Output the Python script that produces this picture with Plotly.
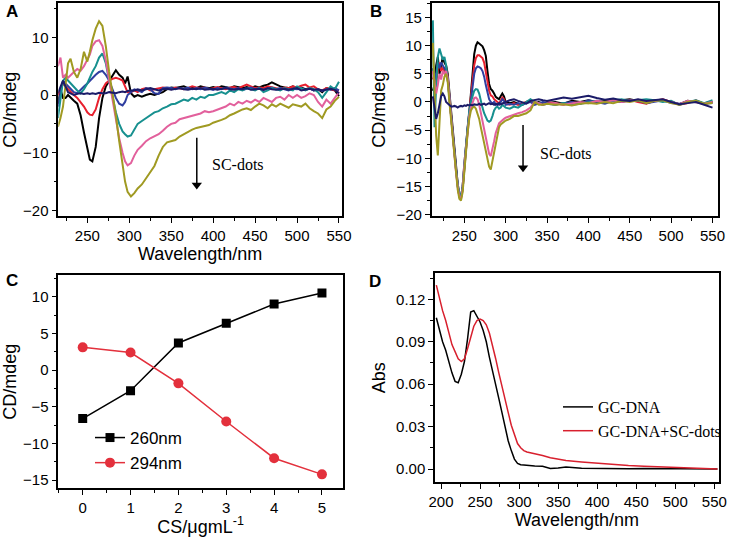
import plotly.graph_objects as go

W, H = 733, 537

# ---------------- Panel A data (CD spectra) ----------------
A_wl = [215, 218, 221, 224, 227, 230, 234, 238, 242, 246,
        250, 253, 256, 260, 264, 268, 272, 276, 280, 284,
        288, 292, 295, 298, 302, 306, 310, 315, 320, 325,
        330, 335, 340, 345, 350, 355, 360, 365, 370, 375,
        380, 385, 390, 395, 400, 405, 410, 415, 420, 425,
        430, 435, 440, 445, 450, 455, 460, 465, 470, 475,
        480, 485, 490, 495, 500, 505, 510, 515, 520, 525,
        530, 535, 540, 545, 550]
A_black = [-1.5, 1.0, -0.5, -0.5, 0.0, -0.5, -1.0, -1.5, -3.5, -6.5,
           -9.5, -11.2, -11.5, -9.0, -4.0, -0.5, 1.5, 2.5, 3.5, 4.3,
           3.5, 3.0, 2.0, 3.2, 0.3, -0.3, 0.0, -0.3, 0.0, 0.2,
           0.0, 0.3, 0.5, 1.0, 1.3, 1.2, 1.3, 1.5, 1.2, 1.4,
           1.2, 1.5, 1.3, 1.2, 1.4, 1.2, 1.5, 1.3, 1.2, 1.5,
           1.3, 1.2, 1.4, 1.2, 1.5, 1.3, 1.6, 1.8, 2.2, 1.8,
           1.5, 1.3, 1.2, 1.5, 1.2, 1.3, 1.0, 1.2, 0.8, 1.0,
           0.5, 1.2, 1.0, 0.8, -0.2]
A_red = [0.0, 1.0, 2.0, 1.5, 1.0, 0.5, 0.0, -0.5, -1.2, -2.0,
         -3.0, -3.4, -3.5, -2.5, -0.5, 1.0, 2.0, 2.5, 2.8, 3.0,
         2.8, 2.5, 1.5, 0.5, 0.5, 0.8, 0.5, 1.0, 1.2, 0.8,
         1.0, 1.2, 1.3, 1.2, 1.0, 1.3, 1.2, 1.0, 1.2, 1.5,
         1.3, 1.2, 1.3, 1.0, 1.2, 1.4, 1.2, 1.0, 1.3, 1.4,
         1.2, 1.5, 1.8, 1.5, 1.2, 1.3, 1.2, 1.5, 1.3, 1.2,
         1.0, 1.3, 1.2, 1.5, 1.3, 1.6, 1.8, 1.3, 1.5, 1.0,
         0.8, 1.2, 1.0, 0.8, 0.8]
A_blue = [-2.0, 0.0, 2.5, 2.0, 1.5, 1.0, 0.5, 0.3, 1.0, 1.5,
          2.0, 2.5, 3.0, 3.5, 4.0, 4.2, 3.5, 2.5, 1.0, -0.5,
          -1.5, -1.8, -1.2, 0.0, 0.5, 1.0, 0.8, 0.5, 1.2, 1.0,
          0.3, 0.2, 1.2, 1.3, 1.2, 1.0, 1.2, 1.1, 1.3, 1.0,
          1.2, 1.0, 1.3, 1.1, 0.9, 1.2, 1.0, 1.3, 1.1, 1.0,
          1.2, 0.9, 1.1, 1.3, 1.0, 1.2, 0.9, 1.1, 1.3, 1.0,
          1.2, 1.0, 0.8, 1.1, 1.0, 1.2, 0.9, 1.1, 0.8, 1.0,
          0.7, 1.0, 0.9, 1.2, 0.8]
A_teal = [-4.0, -1.0, 2.5, 3.0, 2.5, 2.0, 1.5, 0.8, 0.3, 1.0,
          2.0, 3.0, 4.0, 5.0, 6.5, 7.2, 5.5, 2.5, -0.5, -3.0,
          -5.0, -6.3, -6.8, -7.2, -7.0, -6.0, -5.0, -4.5, -4.0, -3.5,
          -3.0, -2.8, -2.3, -2.0, -1.6, -1.5, -1.2, -0.8, -1.0, -0.5,
          -0.8, -0.3, -0.5, 0.0, 0.0, 0.3, 0.5, 0.2, 0.8, 0.5,
          1.0, 0.8, 1.2, 1.0, 0.8, 1.2, 0.5, 0.8, 1.2, 1.0,
          0.8, 1.2, 1.0, 0.8, 1.5, 1.2, 0.8, 1.2, 1.0, 0.5,
          -0.5, 0.5, 1.5, 1.0, 2.3]
A_pink = [5.0, 6.5, 3.0, 3.5, 3.0, 3.5, 4.0, 4.5, 4.2, 5.0,
          6.0, 7.0, 8.5, 9.3, 9.5, 8.5, 6.0, 2.5, -1.0, -4.0,
          -7.5, -10.0, -11.5, -12.2, -11.8, -10.5, -9.5, -8.8, -8.0, -7.5,
          -7.2, -6.8, -6.2, -5.5, -5.0, -4.8, -4.2, -4.0, -3.8, -3.5,
          -3.3, -3.2, -2.8, -3.0, -2.8, -2.5, -2.3, -2.0, -1.5, -1.8,
          -1.2, -1.5, -1.0, -1.3, -0.8, -1.2, -0.5, -0.8, -1.2, -0.5,
          -0.3, -0.8, 0.0, -0.5, 0.0, -0.5, -0.2, 0.3, 0.0, -1.2,
          -2.0, -0.8, -1.5, -0.5, 0.5]
A_olive = [-5.5, -4.0, -2.0, 2.0, 5.5, 6.3, 4.0, 3.0, 4.5, 7.5,
           5.8, 7.5, 9.5, 11.5, 12.8, 12.0, 8.5, 4.0, 0.5, -3.5,
           -8.0, -12.5, -15.0, -16.8, -17.6, -17.0, -16.2, -15.5, -14.5, -13.5,
           -12.3, -10.5, -9.0, -8.2, -8.0, -7.8, -7.2, -6.8, -6.3, -6.0,
           -5.7, -5.5, -5.3, -5.2, -4.8, -4.6, -4.3, -4.0, -3.5, -3.2,
           -2.8, -2.5, -2.3, -2.6, -2.0, -1.5, -1.8, -2.3, -1.6, -2.0,
           -1.5, -1.8, -2.2, -1.6, -1.8, -2.0, -1.5, -2.3, -2.8, -3.2,
           -4.0, -2.5, -2.0, -1.0, -0.3]
A_navy = [0.3, 1.5, 2.5, 1.5, 0.5, 0.3, 0.0, 0.2, 0.3, 0.2,
          0.3, 0.2, 0.3, 0.2, 0.4, 0.3, 0.3, 0.5, 0.4, 0.3,
          0.5, 0.6, 0.5, 0.7, 0.8, 0.8, 1.0, 0.8, 1.0, 1.2,
          1.0, 0.8, 1.0, 1.1, 0.9, 1.0, 1.2, 1.0, 0.9, 1.1,
          1.0, 1.2, 0.9, 1.0, 1.1, 0.9, 1.0, 1.2, 1.0, 0.9,
          1.1, 1.0, 1.2, 0.9, 1.0, 1.1, 0.9, 1.2, 1.0, 0.9,
          1.0, 1.1, 0.9, 1.0, 1.2, 0.8, 1.0, 1.1, 0.9, 1.0,
          0.8, 1.0, 1.1, 0.9, 0.3]

# ---------------- Panel B data (CD spectra) ----------------
B_wl = [212, 214, 216, 218, 220, 222, 224, 226, 228, 230,
        232, 234, 236, 238, 240, 242, 244, 246, 248, 250,
        252, 254, 256, 258, 260, 262, 264, 266, 268, 270,
        272, 274, 276, 278, 280, 282, 284, 286, 288, 290,
        292, 294, 296, 298, 300, 305, 310, 315, 320, 325,
        330, 335, 340, 345, 350, 360, 370, 380, 390, 400,
        410, 420, 430, 440, 450, 460, 470, 480, 490, 500,
        510, 520, 530, 540, 550]
B_black = [2.0, 3.0, 6.5, 8.0, 5.0, 6.5, 8.0, 7.0, 6.5, 5.0,
           1.5, -2.0, -5.5, -8.0, -11.5, -14.5, -16.5, -17.0, -15.5, -11.5,
           -8.0, -5.0, -2.0, 1.6, 5.0, 8.5, 10.0, 10.6, 10.4, 10.2,
           9.9, 9.2, 8.2, 5.5, 3.2, 2.3, 2.0, 1.5, 0.9, 0.7,
           0.5, 1.0, 1.5, 1.0, 0.0, -0.2, 0.0, -0.3, -0.5, 0.0,
           0.2, -0.2, 0.0, -0.3, -0.2, 0.0, -0.3, 0.2, 0.0, 0.3,
           0.0, 0.2, 0.4, 0.3, 0.5, 0.2, 0.0, 0.3, 0.4, 0.0,
           -0.4, 0.2, 0.0, -0.2, 0.0]
B_red = [4.0, 5.0, 3.0, 6.0, 7.0, 5.5, 6.0, 5.5, 6.0, 4.5,
         1.0, -2.5, -5.5, -8.5, -12.0, -14.8, -16.8, -17.0, -15.0, -11.0,
         -7.5, -4.5, -1.8, 1.0, 4.0, 6.5, 7.8, 8.3, 8.3, 8.0,
         7.8, 7.0, 5.5, 3.5, 2.0, 1.2, 1.0, 0.5, 0.3, 0.0,
         -0.3, 0.2, 0.8, 0.5, -0.3, -0.5, -0.2, -0.5, -0.3, 0.0,
         0.3, -0.3, -0.2, -0.5, 0.0, -0.2, -0.5, 0.0, -0.3, 0.2,
         -0.2, 0.0, 0.3, 0.0, 0.4, 0.0, -0.3, 0.2, 0.5, 0.0,
         -0.5, -0.2, 0.3, -0.4, 0.0]
B_blue = [6.0, 4.0, 5.0, 7.0, 6.0, 7.0, 6.5, 6.0, 5.5, 4.0,
          1.0, -2.5, -6.0, -8.5, -12.0, -15.0, -16.5, -16.8, -15.0, -11.0,
          -7.5, -4.5, -2.0, 0.5, 3.0, 5.0, 6.0, 6.3, 6.2, 6.0,
          5.5, 4.5, 3.0, 1.5, 0.5, 0.0, -0.3, 0.0, -0.5, -0.3,
          -0.5, 0.0, 0.5, 0.2, -0.5, -0.3, -0.5, -0.2, -0.5, -0.2,
          0.0, -0.5, -0.3, 0.0, -0.2, -0.5, -0.2, 0.0, -0.3, 0.3,
          0.0, -0.3, 0.2, 0.0, 0.3, 0.2, -0.2, 0.0, 0.3, -0.2,
          -0.3, 0.0, 0.2, -0.3, -0.2]
B_teal = [14.5, -4.5, 3.0, 8.0, 9.5, 8.5, 7.5, 8.0, 6.5, 4.0,
          0.5, -3.0, -6.0, -9.0, -12.0, -14.5, -16.3, -16.8, -15.0, -11.0,
          -7.5, -4.0, -1.5, 0.0, 1.2, 2.0, 2.3, 2.2, 1.5, 0.0,
          -1.0, -2.0, -2.8, -3.3, -3.5, -3.3, -2.5, -1.5, -1.0, -0.8,
          -1.2, -1.0, -0.5, -0.8, -1.0, -1.2, -0.8, -1.0, -0.5, 0.0,
          0.5, 0.0, -0.2, -0.5, -0.3, -0.5, -0.2, -0.5, -0.3, 0.0,
          0.2, 0.0, 0.3, 0.5, 0.2, 0.3, 0.5, 0.3, 0.0, 0.2,
          -0.5, 0.0, 0.3, -0.2, 0.3]
B_pink = [5.5, 3.0, 1.5, 3.0, 5.0, 4.0, 5.5, 5.0, 5.5, 4.0,
          0.5, -3.0, -6.0, -9.0, -12.5, -15.0, -16.8, -17.3, -15.5, -11.5,
          -8.0, -5.0, -2.5, -1.0, 0.0, 0.7, 0.8, 0.5, -0.5, -2.0,
          -3.5, -5.0, -6.5, -8.0, -9.2, -9.6, -8.5, -7.0, -5.5, -4.5,
          -3.8, -3.5, -3.2, -3.0, -2.8, -2.5, -2.2, -2.0, -1.8, -1.5,
          -1.0, 0.0, -0.2, -0.5, -0.3, -0.2, -0.5, -0.3, 0.0, -0.2,
          0.2, 0.0, 0.3, 0.0, 0.2, 0.4, 0.0, 0.2, 0.4, 0.0,
          -0.4, 0.2, 0.0, -0.3, 0.0]
B_olive = [10.5, 0.0, -6.0, -9.5, -3.0, 2.0, 3.0, 4.5, 5.0, 3.5,
           0.0, -3.0, -6.5, -9.5, -13.0, -15.5, -17.2, -17.5, -16.0, -12.0,
           -8.5, -5.5, -3.0, -1.5, -1.0, -0.8, -1.2, -2.0, -3.0, -4.5,
           -6.0, -7.5, -9.0, -10.5, -11.5, -12.0, -10.5, -8.5, -7.0, -5.5,
           -4.5, -4.0, -3.8, -3.5, -3.3, -3.0, -2.5, -2.5, -2.2, -2.0,
           -1.5, 0.0, -0.5, -0.5, -0.3, -0.5, -0.4, -0.6, -0.3, -0.2,
           -0.3, 0.0, -0.2, 0.2, 0.0, 0.3, -0.2, 0.2, 0.3, -0.2,
           -0.5, 0.0, 0.2, -0.3, -0.2]
B_navy = [1.0, -1.5, -3.0, -2.0, -0.5, 1.0, 1.5, 1.0, 0.0, -0.3,
          -0.5, -0.8, -0.8, -0.7, -0.8, -1.0, -0.8, -0.7, -0.8, -0.6,
          -0.7, -0.5, -0.6, -0.5, -0.6, -0.4, -0.5, -0.5, -0.3, -0.5,
          -0.4, -0.3, -0.5, -0.3, -0.2, -0.4, -0.3, -0.5, -0.3, -0.5,
          -0.2, -0.4, -0.3, -0.2, 0.0, 0.3, 0.5, 0.2, 0.0, -0.3,
          0.2, 0.3, 0.5, 0.3, 0.2, 0.5, 0.8, 0.6, 0.8, 1.1,
          0.7, 0.4, 0.6, 0.3, 0.2, 0.5, 0.2, 0.3, 0.5, 0.0,
          -0.4, -0.2, 0.0, -0.5, -1.0]

# ---------------- Panel C data ----------------
C_conc = [0, 1, 2, 3, 4, 5]
C_260 = [-6.6, -2.8, 3.7, 6.4, 9.0, 10.5]
C_294 = [3.1, 2.4, -1.8, -7.0, -12.0, -14.2]

# ---------------- Panel D data (absorbance) ----------------
D_wl = [194, 198, 202, 206, 210, 214, 218, 222, 226, 230,
        234, 238, 242, 246, 250, 254, 258, 262, 266, 270,
        274, 278, 282, 286, 290, 294, 298, 302, 306, 310,
        320, 330, 340, 350, 360, 380, 400, 420, 440, 460,
        480, 500, 520, 540, 554]
D_dna = [0.107, 0.098, 0.090, 0.084, 0.076, 0.068, 0.062, 0.061, 0.067, 0.076,
         0.092, 0.111, 0.112, 0.108, 0.104, 0.098, 0.090, 0.079, 0.070, 0.060,
         0.050, 0.040, 0.030, 0.020, 0.013, 0.007, 0.004, 0.003, 0.0028, 0.0025,
         0.0022, 0.0020, 0.0003, 0.0008, 0.0015, 0.0005, 0.0003, 0.0002, 0.0001, 0.0003,
         0.0002, 0.0001, 0.0, 0.0, 0.0]
D_dots = [0.130, 0.120, 0.112, 0.105, 0.096, 0.088, 0.083, 0.078, 0.076, 0.078,
          0.085, 0.094, 0.101, 0.105, 0.106, 0.105, 0.102, 0.096, 0.088, 0.078,
          0.068, 0.058, 0.049, 0.040, 0.031, 0.024, 0.018, 0.015, 0.013, 0.012,
          0.011, 0.0095, 0.008, 0.007, 0.006, 0.005, 0.004, 0.003, 0.0025, 0.002,
          0.0015, 0.001, 0.0005, 0.0002, 0.0]

# arrow end points ("SC-dots" direction markers), in data units
A_arrow_x = [380.5, 380.5]
A_arrow_y = [-7.4, -15.6]
B_arrow_x = [321, 321]
B_arrow_y = [-4.1, -11.7]

CD_COLORS = {"black": "#000000", "red": "#e8202e", "blue": "#2f3ea0",
             "teal": "#17908f", "pink": "#e2609c", "olive": "#a09a22",
             "navy": "#1b1b68"}

fig = go.Figure()

for name, ys in [("black", A_black), ("red", A_red), ("blue", A_blue), ("teal", A_teal),
                 ("pink", A_pink), ("olive", A_olive), ("navy", A_navy)]:
    fig.add_trace(go.Scatter(x=A_wl, y=ys, mode="lines", showlegend=False,
                             line=dict(color=CD_COLORS[name], width=2),
                             xaxis="x", yaxis="y"))

for name, ys in [("black", B_black), ("red", B_red), ("blue", B_blue), ("teal", B_teal),
                 ("pink", B_pink), ("olive", B_olive), ("navy", B_navy)]:
    fig.add_trace(go.Scatter(x=B_wl, y=ys, mode="lines", showlegend=False,
                             line=dict(color=CD_COLORS[name], width=2),
                             xaxis="x2", yaxis="y2"))

# arrows drawn as a line plus a downward triangle head
for xs, ys, xa, ya in [(A_arrow_x, A_arrow_y, "x", "y"), (B_arrow_x, B_arrow_y, "x2", "y2")]:
    fig.add_trace(go.Scatter(x=xs, y=ys, mode="lines", showlegend=False, hoverinfo="skip",
                             line=dict(color="black", width=1.5), xaxis=xa, yaxis=ya))
    fig.add_trace(go.Scatter(x=xs[1:], y=ys[1:], mode="markers", showlegend=False, hoverinfo="skip",
                             marker=dict(symbol="triangle-down", size=9, color="black",
                                         line=dict(width=0)),
                             xaxis=xa, yaxis=ya))

fig.add_trace(go.Scatter(x=C_conc, y=C_260, mode="lines+markers", name="260nm",
                         line=dict(color="black", width=1.5),
                         marker=dict(symbol="square", size=9, color="black"),
                         xaxis="x3", yaxis="y3", legend="legend"))
fig.add_trace(go.Scatter(x=C_conc, y=C_294, mode="lines+markers", name="294nm",
                         line=dict(color="#e3303c", width=1.5),
                         marker=dict(symbol="circle", size=10, color="#e3303c"),
                         xaxis="x3", yaxis="y3", legend="legend"))

fig.add_trace(go.Scatter(x=D_wl, y=D_dna, mode="lines", name="GC-DNA",
                         line=dict(color="black", width=1.5),
                         xaxis="x4", yaxis="y4", legend="legend2"))
fig.add_trace(go.Scatter(x=D_wl, y=D_dots, mode="lines", name="GC-DNA+SC-dots",
                         line=dict(color="#d8202e", width=1.5),
                         xaxis="x4", yaxis="y4", legend="legend2"))

TICKFONT = dict(family="Liberation Sans, Arial, sans-serif", size=15, color="black")
TITLEFONT = dict(family="Liberation Sans, Arial, sans-serif", size=18, color="black")


def ax(domain, rng, dtick, minor_dtick, anchor, title=None, standoff=None, tickformat=None):
    d = dict(domain=domain, range=rng, dtick=dtick, tick0=0, anchor=anchor,
             automargin=False,
             showline=True, mirror=True, linecolor="black", linewidth=1.5,
             ticks="outside", ticklen=5, tickwidth=1.2, tickcolor="black",
             showgrid=False, zeroline=False, tickfont=TICKFONT,
             minor=dict(dtick=minor_dtick, tick0=0, ticks="outside", ticklen=3,
                        tickwidth=1, tickcolor="black", showgrid=False))
    if title is not None:
        d["title"] = dict(text=title, font=TITLEFONT, standoff=standoff)
    if tickformat:
        d["tickformat"] = tickformat
    return d


def fx(px):
    return px / W


def fy(py):
    return 1 - py / H


fig.update_layout(
    template="none",
    width=W, height=H,
    margin=dict(l=0, r=0, t=0, b=0),
    paper_bgcolor="white", plot_bgcolor="white",
    font=dict(family="Liberation Sans, Arial, sans-serif", color="black"),
    xaxis=ax([fx(58.3), fx(342)], [215.4, 553.6], 50, 25, "y", "Wavelength/nm", 2),
    yaxis=ax([fy(216), fy(3.3)], [-20.97, 15.9], 10, 5, "x", "CD/mdeg", 6),
    xaxis2=ax([fx(431.7), fx(717.7)], [210.6, 556.3], 50, 25, "y2"),
    yaxis2=ax([fy(216), fy(3.3)], [-20.25, 17.53], 5, 2.5, "x2", "CD/mdeg", 6),
    xaxis3=ax([fx(58.3), fx(343)], [-0.51, 5.44], 1, 0.5, "y3", "CS/μgmL<sup>-1</sup>", 0),
    yaxis3=ax([fy(488.3), fy(275)], [-16.1, 12.96], 5, 2.5, "x3", "CD/mdeg", 6),
    xaxis4=ax([fx(435), fx(718.7)], [192.3, 555.6], 50, 25, "y4", "Wavelength/nm", 2),
    yaxis4=ax([fy(482.3), fy(273.3)], [-0.0094, 0.1384], 0.03, 0.015, "x4", "Abs", 6, ".2f"),
    legend=dict(x=fx(90), y=fy(420), xanchor="left", yanchor="top",
                bgcolor="rgba(0,0,0,0)", borderwidth=0,
                font=dict(family="Liberation Sans, Arial, sans-serif", size=17, color="black")),
    legend2=dict(x=fx(558), y=fy(390), xanchor="left", yanchor="top",
                 bgcolor="rgba(0,0,0,0)", borderwidth=0,
                 font=dict(family="Liberation Serif, Times New Roman, serif", size=16, color="black")),
)

PANEL_FONT = dict(family="Liberation Sans, Arial, sans-serif", size=17, color="black")
for label, px, py in [("A", 12, 12), ("B", 376, 12), ("C", 12, 280), ("D", 375, 281)]:
    fig.add_annotation(text="<b>%s</b>" % label, x=fx(px), y=fy(py), xref="paper", yref="paper",
                       showarrow=False, font=PANEL_FONT, xanchor="center", yanchor="middle")

SERIF = dict(family="Liberation Serif, Times New Roman, serif", size=16, color="black")
fig.add_annotation(x=396, y=-12.1, xref="x", yref="y", text="SC-dots", showarrow=False,
                   font=SERIF, xanchor="left", yanchor="middle")
fig.add_annotation(x=339, y=-9.1, xref="x2", yref="y2", text="SC-dots", showarrow=False,
                   font=SERIF, xanchor="left", yanchor="middle")

fig.write_html("out.html", config={"displayModeBar": False},
               post_script="document.body.style.margin='0';document.body.style.padding='0';")
